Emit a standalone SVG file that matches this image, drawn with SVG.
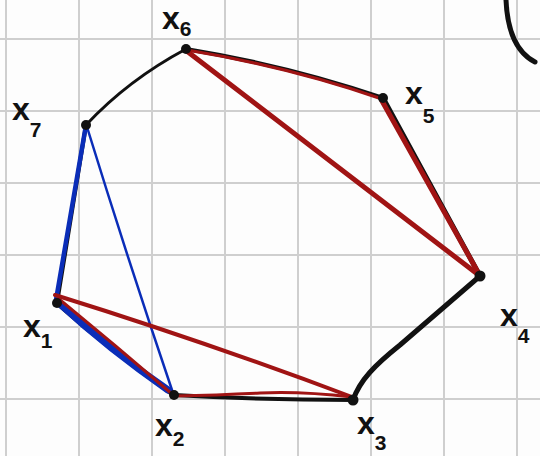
<svg xmlns="http://www.w3.org/2000/svg" width="540" height="456" viewBox="0 0 540 456">
<style>
.grid{stroke:#cfcfcf;stroke-width:2;fill:none}
.blk{stroke:#111;fill:none;stroke-linecap:round;stroke-linejoin:round}
.red{stroke:#a01414;fill:none;stroke-linecap:round;stroke-linejoin:round}
.blu{stroke:#0a2db8;fill:none;stroke-linecap:round;stroke-linejoin:round}
.dot{fill:#111}
.lbl{font-family:"Liberation Sans",Arial,sans-serif;font-weight:bold;font-size:32px;fill:#111}
.sub{font-size:21px}
</style>
<rect width="540" height="456" fill="#fdfdfd"/>
<g id="grid" class="grid">
<path d="M6,0V456M79,0V456M152,0V456M225,0V456M298,0V456M371,0V456M444,0V456M517,0V456"/>
<path d="M0,39H540M0,111H540M0,183H540M0,255H540M0,327H540M0,399H540"/>
</g>
<g id="connectors">
<path class="blk" stroke-width="3" d="M186,49 Q128,80 86,125"/>
<path class="blk" stroke-width="4" d="M86,125 L57,303"/>
<path class="blk" stroke-width="5" d="M57,303 Q110,350 174,395"/>
<path class="blk" stroke-width="4" d="M174,395 Q260,400 353,400"/>
<path class="blk" stroke-width="5" d="M353,400 C360,380 375,365 400,345 L480,276"/>
<path class="blk" stroke-width="5" d="M480,276 L383,98"/>
<path class="blk" stroke-width="4" d="M383,98 Q290,66 186,49"/>
<path class="blu" stroke-width="4.5" d="M86,125 L56,300"/>
<path class="blu" stroke-width="2.5" d="M87,127 Q128,260 174,396"/>
<path class="blu" stroke-width="7" d="M60,304 Q110,350 168,390"/>
<path class="red" stroke-width="3" d="M187,50 Q290,67 382,99"/>
<path class="red" stroke-width="5" d="M188,52 L480,276"/>
<path class="red" stroke-width="5" d="M382,101 L479,274"/>
<path class="red" stroke-width="4" d="M55,295 Q200,340 352,397"/>
<path class="red" stroke-width="3" d="M59,299 Q115,345 172,394"/>
<path class="red" stroke-width="3" d="M174,396 Q220,395 260,393 T352,397"/>
<path class="blk" stroke-width="5" d="M506,0 Q508,48 535,62"/>
</g>
<g id="x6"><circle class="dot" cx="186" cy="49" r="5"/><text class="lbl" x="162" y="29">x<tspan class="sub" dy="7">6</tspan></text></g>
<g id="x7"><circle class="dot" cx="86" cy="125" r="5"/><text class="lbl" x="12" y="120">x<tspan class="sub" dy="17">7</tspan></text></g>
<g id="x5"><circle class="dot" cx="383" cy="98" r="5"/><text class="lbl" x="405" y="104">x<tspan class="sub" dy="19">5</tspan></text></g>
<g id="x4"><circle class="dot" cx="480" cy="276" r="5.5"/><text class="lbl" x="500" y="326">x<tspan class="sub" dy="17">4</tspan></text></g>
<g id="x3"><circle class="dot" cx="353" cy="400" r="5.5"/><text class="lbl" x="357" y="434">x<tspan class="sub" dy="16">3</tspan></text></g>
<g id="x2"><circle class="dot" cx="174" cy="395" r="5"/><text class="lbl" x="155" y="436">x<tspan class="sub" dy="10">2</tspan></text></g>
<g id="x1"><circle class="dot" cx="57" cy="303" r="5"/><text class="lbl" x="23" y="337">x<tspan class="sub" dy="11">1</tspan></text></g>
</svg>
